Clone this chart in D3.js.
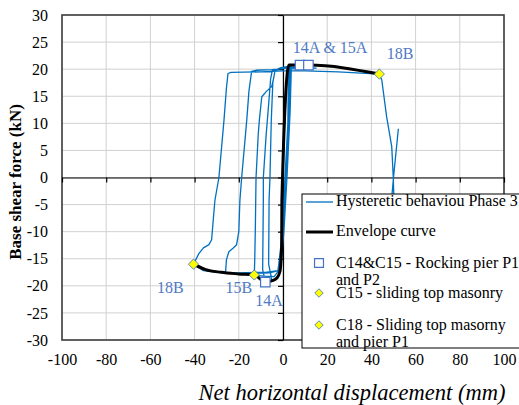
<!DOCTYPE html>
<html>
<head>
<meta charset="utf-8">
<script src="https://cdn.jsdelivr.net/npm/d3@7"></script>
<style>
  body { margin: 0; background: #fff; }
</style>
</head>
<body>
<div id="chart"></div>
<script>
// axis ticks
const xTicks = [-100, -80, -60, -40, -20, 0, 20, 40, 60, 80, 100];
const yTicks = [-30, -25, -20, -15, -10, -5, 0, 5, 10, 15, 20, 25, 30];

// hysteretic response, phase 3 (displacement mm, force kN)
const hysteretic = [
  [0, 0], [0.6, 8], [1.4, 16], [2, 19.6], [3.2, 20.2],
  [2.6, 12], [1.4, 2], [0.2, -8], [-0.9, -15], [-2, -18.2], [-3.5, -18.9], [-5, -19],
  [-6.5, -16], [-6.3, -4.2], [-5.9, 0], [-5.3, 10.6], [-4.6, 17.5], [-3.6, 19.8], [-1, 20.3], [2.5, 20.5], [3.8, 20.6],
  [3.2, 12], [1.8, 0], [0.4, -10], [-1, -16.5], [-2.5, -18.6], [-5, -19], [-8, -19.2],
  [-9.2, -17], [-8.9, -4.2], [-8.9, 0], [-7.6, 8], [-6.4, 14], [-5.6, 18.2], [-4.8, 19.8], [0, 20.2], [5, 20.4], [15, 20.2], [5, 20.1], [3.4, 20],
  [2.8, 10], [1.2, 0], [-0.4, -11], [-1.6, -17], [-4, -18.3], [-9, -18.2], [-13, -18],
  [-12.8, -15.5], [-12.5, -9], [-12.2, 0], [-11.2, 8], [-10.7, 10.6], [-9.6, 14.9], [-7.5, 15.9], [-5.1, 16.8], [-4.2, 18.4], [-3.6, 19.8], [-1, 20.1], [2.5, 20.3],
  [2.2, 10], [0.9, 0], [-0.8, -12], [-2.2, -17.2], [-6, -17.6], [-15, -17.7], [-26, -17.6],
  [-25.6, -15.2], [-24.5, -13.7], [-22.5, -13], [-21, -12.4], [-20, -10], [-19.5, -4.2], [-18.7, 0], [-16.4, 10.6], [-15.4, 16], [-14.2, 19.6], [-12, 19.8], [-5, 19.9], [0, 20.1], [2.8, 20.3],
  [2.4, 10], [1, 0], [-0.6, -12], [-2.3, -17.2], [-8, -17.5], [-20, -17.6], [-30, -17.5], [-36, -17.2], [-40.5, -16],
  [-38, -14], [-36, -13], [-33.5, -12.4], [-32.3, -11.5], [-31.6, -8], [-30.8, -4.2], [-29, 0], [-26.7, 10.6], [-25.6, 16.5], [-24.9, 19.2], [-23.5, 19.4], [-10, 19.5], [0, 19.7], [10, 19.7], [25, 19.5], [43.6, 19.1],
  [44.7, 18], [46.9, 11.2], [49.2, 5.7], [49.9, 0], [50.2, -4.2], [50.4, -8], [49.2, -8], [49.1, -4.2], [50, 0], [52.2, 9]
];

// envelope curve
const envelope = [
  [-40.5, -16], [-35, -17], [-28, -17.5], [-20, -17.8], [-13, -18], [-8, -19.3],
  [-4.5, -19], [-2.9, -18.6], [-1.4, -17.4], [-0.6, -12.5], [-0.5, -4.2], [2.7, 20.75],
  [7.7, 20.75], [11.5, 20.75], [43.6, 19.1]
];

// damage points
const rockingPts = [[7.7, 20.75], [11.5, 20.75], [-8, -19.3]];
const slidingPts = [[43.6, 19.1], [-40.5, -16], [-13, -18]];

// point labels
const labelText = ["14A & 15A", "18B", "18B", "15B", "14A"];
const labelPos = [[21.3, 23.0], [53, 21.8], [-51, -21.3], [-20, -21.3], [-6.3, -23.7]];

const legendItems = [
  { type: "hyst", lines: ["Hysteretic behaviou Phase 3"] },
  { type: "env", lines: ["Envelope curve"] },
  { type: "square", lines: ["C14&C15 - Rocking pier P1", "and P2"] },
  { type: "diamond", lines: ["C15 - sliding top masonry"] },
  { type: "diamond", lines: ["C18 - Sliding top masorny", "and pier P1"] }
];

const width = 519, height = 405;
const plot = { left: 62, right: 504, top: 15, bottom: 340 };
const blue = "#0070C0";
const labelBlue = "#4F7AC4";
const serif = "'Liberation Serif', 'Times New Roman', serif";

const svg = d3.select("#chart").append("svg")
  .attr("width", width)
  .attr("height", height);

const x = d3.scaleLinear().domain([-100, 100]).range([plot.left, plot.right]);
const y = d3.scaleLinear().domain([-30, 30]).range([plot.bottom, plot.top]);

// gridlines
svg.append("g").selectAll("line")
  .data(xTicks.slice(1, -1))
  .join("line")
  .attr("x1", d => x(d)).attr("x2", d => x(d))
  .attr("y1", plot.top).attr("y2", plot.bottom)
  .attr("stroke", "#d0d0d0").attr("stroke-width", 1);

svg.append("g").selectAll("line")
  .data(yTicks.slice(1, -1))
  .join("line")
  .attr("x1", plot.left).attr("x2", plot.right)
  .attr("y1", d => y(d)).attr("y2", d => y(d))
  .attr("stroke", "#d0d0d0").attr("stroke-width", 1);

// frame
svg.append("rect")
  .attr("x", plot.left).attr("y", plot.top)
  .attr("width", plot.right - plot.left).attr("height", plot.bottom - plot.top)
  .attr("fill", "none").attr("stroke", "#3a3a3a").attr("stroke-width", 1.6);

// zero axes with small ticks
const xZero = svg.append("g")
  .attr("transform", `translate(0,${y(0)})`)
  .call(d3.axisBottom(x).tickValues(xTicks).tickSize(5).tickFormat("").tickSizeOuter(0));
const yZero = svg.append("g")
  .attr("transform", `translate(${x(0)},0)`)
  .call(d3.axisLeft(y).tickValues(yTicks).tickSize(5).tickFormat("").tickSizeOuter(0));
[xZero, yZero].forEach(g => {
  g.selectAll("path, line").attr("stroke", "#000").attr("stroke-width", 1.2);
});

// tick labels at the plot edges
const xLab = svg.append("g")
  .attr("transform", `translate(0,${plot.bottom})`)
  .call(d3.axisBottom(x).tickValues(xTicks).tickSize(0).tickPadding(14).tickFormat(d => String(d)));
const yLab = svg.append("g")
  .attr("transform", `translate(${plot.left},0)`)
  .call(d3.axisLeft(y).tickValues(yTicks).tickSize(0).tickPadding(14).tickFormat(d => String(d)));
[xLab, yLab].forEach(g => {
  g.select(".domain").remove();
  g.selectAll("text")
    .style("font-family", serif)
    .style("font-size", "16px")
    .attr("fill", "#000");
});

// axis titles
svg.append("text")
  .attr("transform", `translate(21,182) rotate(-90)`)
  .attr("text-anchor", "middle")
  .style("font-family", serif)
  .style("font-size", "17px")
  .style("font-weight", "bold")
  .text("Base shear force (kN)");

svg.append("text")
  .attr("x", 352).attr("y", 400)
  .attr("text-anchor", "middle")
  .style("font-family", serif)
  .style("font-size", "22.5px")
  .style("font-style", "italic")
  .text("Net horizontal displacement (mm)");

// series
const line = d3.line().x(d => x(d[0])).y(d => y(d[1]));

svg.append("path")
  .datum(hysteretic)
  .attr("d", line)
  .attr("fill", "none")
  .attr("stroke", blue)
  .attr("stroke-width", 1.3)
  .attr("stroke-linejoin", "round");

svg.append("path")
  .datum(envelope)
  .attr("d", d3.line().x(d => x(d[0])).y(d => y(d[1])).curve(d3.curveMonotoneX))
  .attr("fill", "none")
  .attr("stroke", "#000")
  .attr("stroke-width", 3)
  .attr("stroke-linejoin", "round");

const square = d3.symbol(d3.symbolSquare, 90);
const diamond = d3.symbol(d3.symbolSquare, 52);

svg.append("g").selectAll("path")
  .data(rockingPts)
  .join("path")
  .attr("d", square)
  .attr("transform", d => `translate(${x(d[0])},${y(d[1])})`)
  .attr("fill", "#fff")
  .attr("stroke", "#4472C4")
  .attr("stroke-width", 1.2);

svg.append("g").selectAll("path")
  .data(slidingPts)
  .join("path")
  .attr("d", diamond)
  .attr("transform", d => `translate(${x(d[0])},${y(d[1])}) rotate(45)`)
  .attr("fill", "#FFFF00")
  .attr("stroke", "#4472C4")
  .attr("stroke-width", 0.8);

// point labels
svg.append("g").selectAll("text")
  .data(labelText)
  .join("text")
  .attr("x", (d, i) => x(labelPos[i][0]))
  .attr("y", (d, i) => y(labelPos[i][1]))
  .attr("text-anchor", "middle")
  .style("font-family", serif)
  .style("font-size", "16px")
  .attr("fill", labelBlue)
  .text(d => d);

// legend
const legend = svg.append("g").attr("transform", "translate(302,194)");
legend.append("rect")
  .attr("x", 0).attr("y", 0)
  .attr("width", 240).attr("height", 154)
  .attr("fill", "#fff")
  .attr("stroke", "#000")
  .attr("stroke-width", 1);

const rowY = [12, 42, 74, 104, 136];
legendItems.forEach((item, i) => {
  const cy = rowY[i];
  const g = legend.append("g");
  if (item.type === "hyst") {
    g.append("line").attr("x1", 4).attr("x2", 31).attr("y1", cy - 4).attr("y2", cy - 4)
      .attr("stroke", blue).attr("stroke-width", 1.3);
  } else if (item.type === "env") {
    g.append("line").attr("x1", 4).attr("x2", 31).attr("y1", cy - 4).attr("y2", cy - 4)
      .attr("stroke", "#000").attr("stroke-width", 3);
  } else if (item.type === "square") {
    g.append("path").attr("d", d3.symbol(d3.symbolSquare, 80))
      .attr("transform", `translate(17,${cy - 5})`)
      .attr("fill", "#fff").attr("stroke", "#4472C4").attr("stroke-width", 1.2);
  } else {
    g.append("path").attr("d", d3.symbol(d3.symbolSquare, 36))
      .attr("transform", `translate(17,${cy - 5}) rotate(45)`)
      .attr("fill", "#FFFF00").attr("stroke", "#4472C4").attr("stroke-width", 0.8);
  }
  item.lines.forEach((t, j) => {
    g.append("text")
      .attr("x", 34).attr("y", cy + j * 17)
      .style("font-family", serif)
      .style("font-size", "16px")
      .attr("fill", "#000")
      .text(t);
  });
});
</script>
</body>
</html>
